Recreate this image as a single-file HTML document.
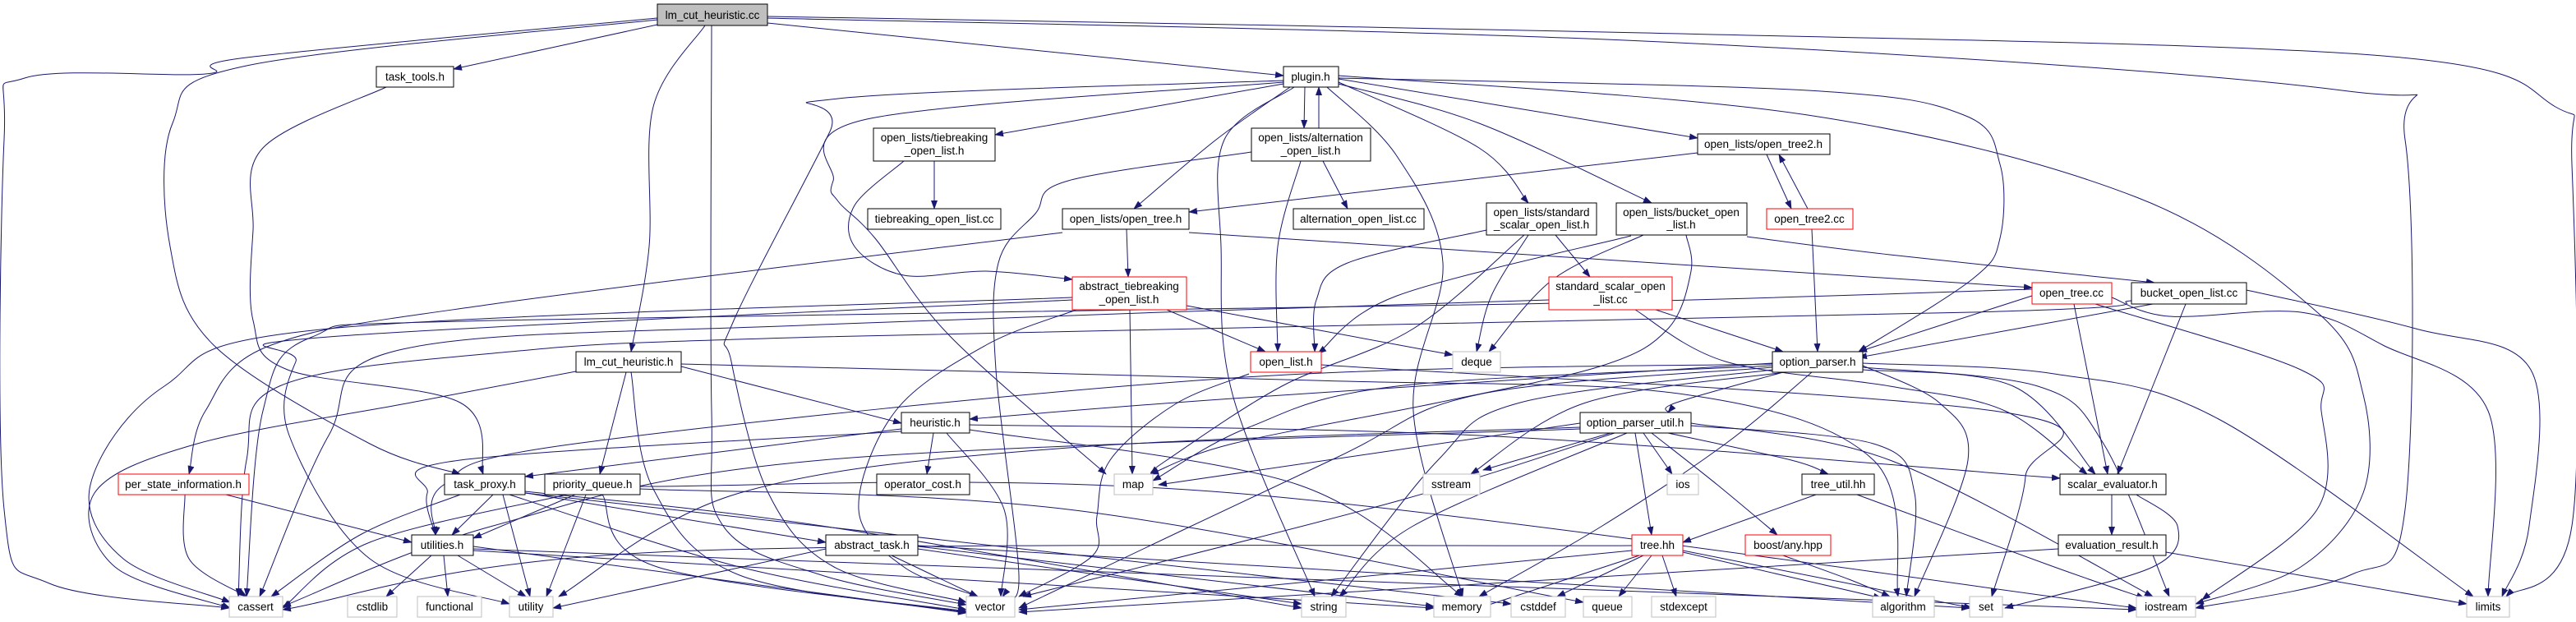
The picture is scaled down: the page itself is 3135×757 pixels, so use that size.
<!DOCTYPE html>
<html><head><meta charset="utf-8">
<style>
html,body{margin:0;padding:0;background:#fff;}
svg{display:block;}
text{font-family:"Liberation Sans",Arial,sans-serif;font-size:13.5px;fill:#000;}
</style></head>
<body>
<svg id="g" width="3135" height="757" viewBox="0 0 3135 757" xmlns="http://www.w3.org/2000/svg">
<defs>
<marker id="ah" markerWidth="11" markerHeight="8" refX="10" refY="4" orient="auto" markerUnits="userSpaceOnUse">
<path d="M0,0 L11,4 L0,8 z" fill="#191970"/>
</marker>
</defs>
<g id="edges" fill="none" stroke="#191970" stroke-width="1"></g>
<g id="nodes">
<rect x="800" y="5" width="134" height="26" fill="#bfbfbf" stroke="#000"/><text x="867" y="23" text-anchor="middle">lm_cut_heuristic.cc</text>
<rect x="458" y="81" width="94" height="25" fill="#fff" stroke="#000"/><text x="505" y="98" text-anchor="middle">task_tools.h</text>
<rect x="1562" y="81" width="67" height="25" fill="#fff" stroke="#000"/><text x="1595" y="98" text-anchor="middle">plugin.h</text>
<rect x="1063" y="156" width="148" height="40" fill="#fff" stroke="#000"/><text x="1137" y="172" text-anchor="middle">open_lists/tiebreaking</text><text x="1137" y="188" text-anchor="middle">_open_list.h</text>
<rect x="1523" y="156" width="145" height="40" fill="#fff" stroke="#000"/><text x="1595" y="172" text-anchor="middle">open_lists/alternation</text><text x="1595" y="188" text-anchor="middle">_open_list.h</text>
<rect x="2066" y="163" width="161" height="25" fill="#fff" stroke="#000"/><text x="2146" y="180" text-anchor="middle">open_lists/open_tree2.h</text>
<rect x="1056" y="254" width="162" height="25" fill="#fff" stroke="#000"/><text x="1137" y="271" text-anchor="middle">tiebreaking_open_list.cc</text>
<rect x="1293" y="254" width="154" height="25" fill="#fff" stroke="#000"/><text x="1370" y="271" text-anchor="middle">open_lists/open_tree.h</text>
<rect x="1574" y="254" width="159" height="25" fill="#fff" stroke="#000"/><text x="1653" y="271" text-anchor="middle">alternation_open_list.cc</text>
<rect x="1809" y="247" width="134" height="39" fill="#fff" stroke="#000"/><text x="1876" y="263" text-anchor="middle">open_lists/standard</text><text x="1876" y="278" text-anchor="middle">_scalar_open_list.h</text>
<rect x="1967" y="247" width="159" height="39" fill="#fff" stroke="#000"/><text x="2046" y="263" text-anchor="middle">open_lists/bucket_open</text><text x="2046" y="278" text-anchor="middle">_list.h</text>
<rect x="2150" y="254" width="105" height="25" fill="#fff" stroke="#f00"/><text x="2202" y="271" text-anchor="middle">open_tree2.cc</text>
<rect x="1305" y="337" width="139" height="40" fill="#fff" stroke="#f00"/><text x="1374" y="353" text-anchor="middle">abstract_tiebreaking</text><text x="1374" y="369" text-anchor="middle">_open_list.h</text>
<rect x="1885" y="337" width="150" height="40" fill="#fff" stroke="#f00"/><text x="1960" y="353" text-anchor="middle">standard_scalar_open</text><text x="1960" y="369" text-anchor="middle">_list.cc</text>
<rect x="2473" y="344" width="97" height="26" fill="#fff" stroke="#f00"/><text x="2521" y="361" text-anchor="middle">open_tree.cc</text>
<rect x="2594" y="344" width="140" height="26" fill="#fff" stroke="#000"/><text x="2664" y="361" text-anchor="middle">bucket_open_list.cc</text>
<rect x="701" y="428" width="128" height="25" fill="#fff" stroke="#000"/><text x="765" y="445" text-anchor="middle">lm_cut_heuristic.h</text>
<rect x="1522" y="428" width="86" height="25" fill="#fff" stroke="#f00"/><text x="1565" y="445" text-anchor="middle">open_list.h</text>
<rect x="1768" y="428" width="58" height="25" fill="#fff" stroke="#bfbfbf"/><text x="1797" y="445" text-anchor="middle">deque</text>
<rect x="2157" y="428" width="110" height="25" fill="#fff" stroke="#000"/><text x="2212" y="445" text-anchor="middle">option_parser.h</text>
<rect x="1097" y="502" width="83" height="25" fill="#fff" stroke="#000"/><text x="1138" y="519" text-anchor="middle">heuristic.h</text>
<rect x="1923" y="502" width="135" height="25" fill="#fff" stroke="#000"/><text x="1990" y="519" text-anchor="middle">option_parser_util.h</text>
<rect x="144" y="577" width="159" height="25" fill="#fff" stroke="#f00"/><text x="223" y="594" text-anchor="middle">per_state_information.h</text>
<rect x="541" y="577" width="98" height="25" fill="#fff" stroke="#000"/><text x="590" y="594" text-anchor="middle">task_proxy.h</text>
<rect x="663" y="577" width="116" height="25" fill="#fff" stroke="#000"/><text x="721" y="594" text-anchor="middle">priority_queue.h</text>
<rect x="1067" y="577" width="113" height="25" fill="#fff" stroke="#000"/><text x="1123" y="594" text-anchor="middle">operator_cost.h</text>
<rect x="1356" y="577" width="47" height="25" fill="#fff" stroke="#bfbfbf"/><text x="1379" y="594" text-anchor="middle">map</text>
<rect x="1732" y="577" width="69" height="25" fill="#fff" stroke="#bfbfbf"/><text x="1766" y="594" text-anchor="middle">sstream</text>
<rect x="2029" y="577" width="38" height="25" fill="#fff" stroke="#bfbfbf"/><text x="2048" y="594" text-anchor="middle">ios</text>
<rect x="2193" y="577" width="88" height="25" fill="#fff" stroke="#000"/><text x="2237" y="594" text-anchor="middle">tree_util.hh</text>
<rect x="2507" y="577" width="129" height="25" fill="#fff" stroke="#000"/><text x="2571" y="594" text-anchor="middle">scalar_evaluator.h</text>
<rect x="501" y="651" width="75" height="25" fill="#fff" stroke="#000"/><text x="538" y="668" text-anchor="middle">utilities.h</text>
<rect x="1005" y="651" width="112" height="25" fill="#fff" stroke="#000"/><text x="1061" y="668" text-anchor="middle">abstract_task.h</text>
<rect x="1986" y="651" width="62" height="25" fill="#fff" stroke="#f00"/><text x="2017" y="668" text-anchor="middle">tree.hh</text>
<rect x="2124" y="651" width="104" height="25" fill="#fff" stroke="#f00"/><text x="2176" y="668" text-anchor="middle">boost/any.hpp</text>
<rect x="2505" y="651" width="131" height="25" fill="#fff" stroke="#000"/><text x="2570" y="668" text-anchor="middle">evaluation_result.h</text>
<rect x="279" y="726" width="65" height="25" fill="#fff" stroke="#bfbfbf"/><text x="311" y="743" text-anchor="middle">cassert</text>
<rect x="423" y="726" width="60" height="25" fill="#fff" stroke="#bfbfbf"/><text x="453" y="743" text-anchor="middle">cstdlib</text>
<rect x="508" y="726" width="78" height="25" fill="#fff" stroke="#bfbfbf"/><text x="547" y="743" text-anchor="middle">functional</text>
<rect x="620" y="726" width="53" height="25" fill="#fff" stroke="#bfbfbf"/><text x="646" y="743" text-anchor="middle">utility</text>
<rect x="1176" y="726" width="59" height="25" fill="#fff" stroke="#bfbfbf"/><text x="1205" y="743" text-anchor="middle">vector</text>
<rect x="1584" y="726" width="54" height="25" fill="#fff" stroke="#bfbfbf"/><text x="1611" y="743" text-anchor="middle">string</text>
<rect x="1745" y="726" width="69" height="25" fill="#fff" stroke="#bfbfbf"/><text x="1779" y="743" text-anchor="middle">memory</text>
<rect x="1839" y="726" width="66" height="25" fill="#fff" stroke="#bfbfbf"/><text x="1872" y="743" text-anchor="middle">cstddef</text>
<rect x="1927" y="726" width="59" height="25" fill="#fff" stroke="#bfbfbf"/><text x="1956" y="743" text-anchor="middle">queue</text>
<rect x="2010" y="726" width="78" height="25" fill="#fff" stroke="#bfbfbf"/><text x="2049" y="743" text-anchor="middle">stdexcept</text>
<rect x="2279" y="726" width="75" height="25" fill="#fff" stroke="#bfbfbf"/><text x="2316" y="743" text-anchor="middle">algorithm</text>
<rect x="2397" y="726" width="40" height="25" fill="#fff" stroke="#bfbfbf"/><text x="2417" y="743" text-anchor="middle">set</text>
<rect x="2600" y="726" width="72" height="25" fill="#fff" stroke="#bfbfbf"/><text x="2636" y="743" text-anchor="middle">iostream</text>
<rect x="3002" y="726" width="52" height="25" fill="#fff" stroke="#bfbfbf"/><text x="3028" y="743" text-anchor="middle">limits</text>
</g>
</svg>
<script>
var E=[
[[800,22],[300,70],[250,90],[30,95],[5,170],[5,620],[60,710],[279,740]],
[[800,24],[300,80],[210,150],[207,300],[260,420],[450,540],[560,577]],
[[800,30],[552,84]],
[[858,31],[795,130],[790,300],[768,428]],
[[866,31],[866,500],[880,640],[1000,700],[1176,736]],
[[934,28],[1562,92]],
[[934,20],[2000,40],[2900,68],[3110,130],[3130,200],[3130,640],[3050,726]],
[[934,22],[2000,50],[2850,110],[2927,170],[2927,620],[2860,700],[2672,740]],
[[470,106],[320,180],[308,280],[308,390],[350,450],[560,490],[588,577]],
[[1562,98],[1020,120],[1010,160],[893,390],[890,440],[935,600],[1015,690],[1176,733]],
[[1562,100],[1055,145],[1014,220],[1020,245],[1065,290],[1157,410],[1346,577]],
[[1562,102],[1211,164]],
[[1570,106],[1480,170],[1380,254]],
[[1588,106],[1587,156]],
[[1605,156],[1605,106]],
[[1575,106],[1490,170],[1486,300],[1500,480],[1600,726]],
[[1615,106],[1700,190],[1756,320],[1720,500],[1780,726]],
[[1629,100],[1800,180],[1860,247]],
[[1629,102],[1800,150],[2010,247]],
[[1629,96],[2066,168]],
[[1629,95],[2200,110],[2390,140],[2434,200],[2434,290],[2400,340],[2262,428]],
[[1629,92],[2200,140],[2600,240],[2820,380],[2876,480],[2876,600],[2800,690],[2672,735]],
[[1137,196],[1137,254]],
[[1100,196],[1040,250],[1040,300],[1100,335],[1200,330],[1305,340]],
[[1371,279],[1373,337]],
[[1293,283],[600,370],[330,420],[250,500],[230,577]],
[[1447,283],[2473,350]],
[[1610,196],[1640,254]],
[[1583,196],[1555,300],[1555,428]],
[[1523,185],[1300,220],[1260,260],[1215,320],[1212,450],[1240,700],[1220,726]],
[[2150,188],[2180,254]],
[[2200,254],[2165,188]],
[[2205,279],[2212,428]],
[[2066,186],[1447,258]],
[[1420,377],[1540,428]],
[[1375,377],[1378,577]],
[[1310,377],[1200,420],[1090,500],[1045,620],[1100,690],[1190,726]],
[[1444,372],[1768,432]],
[[1305,362],[400,400],[200,470],[110,590],[150,680],[280,733]],
[[1305,365],[400,410],[360,440],[352,530],[450,680],[620,735]],
[[1893,286],[1935,337]],
[[1860,286],[1815,360],[1797,428]],
[[1809,280],[1640,320],[1602,365],[1600,428]],
[[1855,286],[1720,400],[1560,470],[1420,560],[1400,577]],
[[2126,288],[2300,310],[2622,344]],
[[2000,286],[1890,340],[1812,428]],
[[1985,287],[1700,360],[1604,430]],
[[2052,286],[2058,330],[2030,400],[1950,445],[1750,490],[1500,540],[1400,577]],
[[2015,377],[2170,428]],
[[1990,377],[2100,440],[2300,470],[2440,500],[2540,577]],
[[1885,365],[1000,395],[490,425],[400,530],[316,726]],
[[2473,360],[2262,428]],
[[2524,370],[2565,577]],
[[2550,370],[2800,450],[2825,500],[2820,620],[2680,730]],
[[2570,362],[2640,385],[2800,380],[2900,420],[3028,500],[3028,726]],
[[2473,352],[1850,370],[600,390],[380,410],[320,500],[300,726]],
[[2620,370],[2262,435]],
[[2660,370],[2577,577]],
[[2734,353],[2940,400],[3080,450],[3078,640],[3045,726]],
[[2594,366],[2400,380],[1000,410],[600,430],[340,470],[300,560],[290,726]],
[[1520,455],[1430,492],[1351,560],[1335,628],[1330,676],[1240,726]],
[[1608,444],[2440,502],[2465,580],[2424,726]],
[[829,446],[1097,515]],
[[762,453],[730,577]],
[[768,453],[795,595],[900,700],[1176,745]],
[[701,452],[500,490],[240,540],[115,600],[140,690],[280,740]],
[[829,443],[1600,463],[2050,480],[2280,560],[2310,726]],
[[2157,442],[1500,485],[1180,510]],
[[2170,453],[2040,490],[2030,502]],
[[2157,445],[1700,470],[1520,520],[1403,585]],
[[2157,447],[1800,480],[1620,560],[1240,740]],
[[2157,450],[1850,490],[1750,560],[1620,726]],
[[2172,453],[1930,490],[1790,577]],
[[2205,453],[2100,540],[1950,640],[1800,726]],
[[2267,445],[2360,490],[2395,560],[2330,726]],
[[2267,447],[2480,470],[2560,540],[2640,726]],
[[2267,442],[2500,455],[2700,510],[3010,726]],
[[2267,450],[2450,470],[2550,577]],
[[2157,443],[1500,460],[700,540],[540,590],[530,651]],
[[1136,527],[1128,577]],
[[1152,527],[1222,620],[1218,726]],
[[1180,523],[1580,590],[1780,726]],
[[1180,517],[1800,530],[2507,582]],
[[1097,522],[639,580]],
[[1097,525],[560,560],[520,600],[530,651]],
[[1990,527],[2010,651]],
[[2030,527],[2180,560],[2225,577]],
[[2010,527],[2090,590],[2163,651]],
[[2000,527],[2035,577]],
[[1960,527],[1805,572]],
[[1923,515],[1410,590]],
[[1980,527],[1720,640],[1630,726]],
[[1965,527],[1700,610],[1245,726]],
[[1923,520],[1300,545],[900,600],[680,726]],
[[2058,518],[2280,540],[2330,600],[2320,726]],
[[2058,515],[2300,560],[2620,726]],
[[1923,522],[1000,560],[600,640],[344,738]],
[[2210,602],[2048,660]],
[[2260,602],[2500,690],[2610,728]],
[[1995,676],[1800,740]],
[[2000,676],[1895,726]],
[[2010,676],[1970,726]],
[[2023,676],[2040,726]],
[[2048,672],[2290,728]],
[[2048,670],[2400,740]],
[[1986,664],[800,672],[344,742]],
[[1986,670],[1240,742]],
[[2170,676],[2250,705],[2300,726]],
[[2570,602],[2570,651]],
[[2600,602],[2650,640],[2620,690],[2440,740]],
[[2636,672],[3002,735]],
[[2505,668],[1240,745]],
[[600,602],[550,651]],
[[560,602],[440,650],[330,726]],
[[612,602],[645,726]],
[[620,602],[900,690],[1176,742]],
[[640,600],[1005,660]],
[[639,598],[1000,640],[1584,740]],
[[639,600],[1839,735]],
[[700,602],[576,655]],
[[713,602],[665,726]],
[[733,602],[800,690],[1176,744]],
[[690,602],[450,660],[344,740]],
[[779,595],[1300,620],[1927,733]],
[[779,592],[1500,600],[2600,740]],
[[525,676],[470,726]],
[[540,676],[545,726]],
[[557,676],[640,726]],
[[576,665],[1176,746]],
[[576,670],[1745,740]],
[[576,668],[2600,742]],
[[1085,676],[1190,726]],
[[1005,668],[673,740]],
[[1117,668],[1584,735]],
[[1117,665],[1745,738]],
[[1117,664],[2397,740]],
[[225,602],[230,680],[300,726]],
[[275,602],[501,660]]
];
var g=document.getElementById('edges'),ns='http://www.w3.org/2000/svg';
E.forEach(function(p){
  var d='M'+p[0][0]+','+p[0][1];
  for(var i=0;i<p.length-1;i++){
    var p0=p[i-1]||p[i],p1=p[i],p2=p[i+1],p3=p[i+2]||p[i+1];
    var c1x=p1[0]+(p2[0]-p0[0])/6,c1y=p1[1]+(p2[1]-p0[1])/6;
    var c2x=p2[0]-(p3[0]-p1[0])/6,c2y=p2[1]-(p3[1]-p1[1])/6;
    d+=' C'+c1x.toFixed(1)+','+c1y.toFixed(1)+' '+c2x.toFixed(1)+','+c2y.toFixed(1)+' '+p2[0]+','+p2[1];
  }
  var e=document.createElementNS(ns,'path');
  e.setAttribute('d',d);e.setAttribute('marker-end','url(#ah)');
  g.appendChild(e);
});
</script>
</body></html>
